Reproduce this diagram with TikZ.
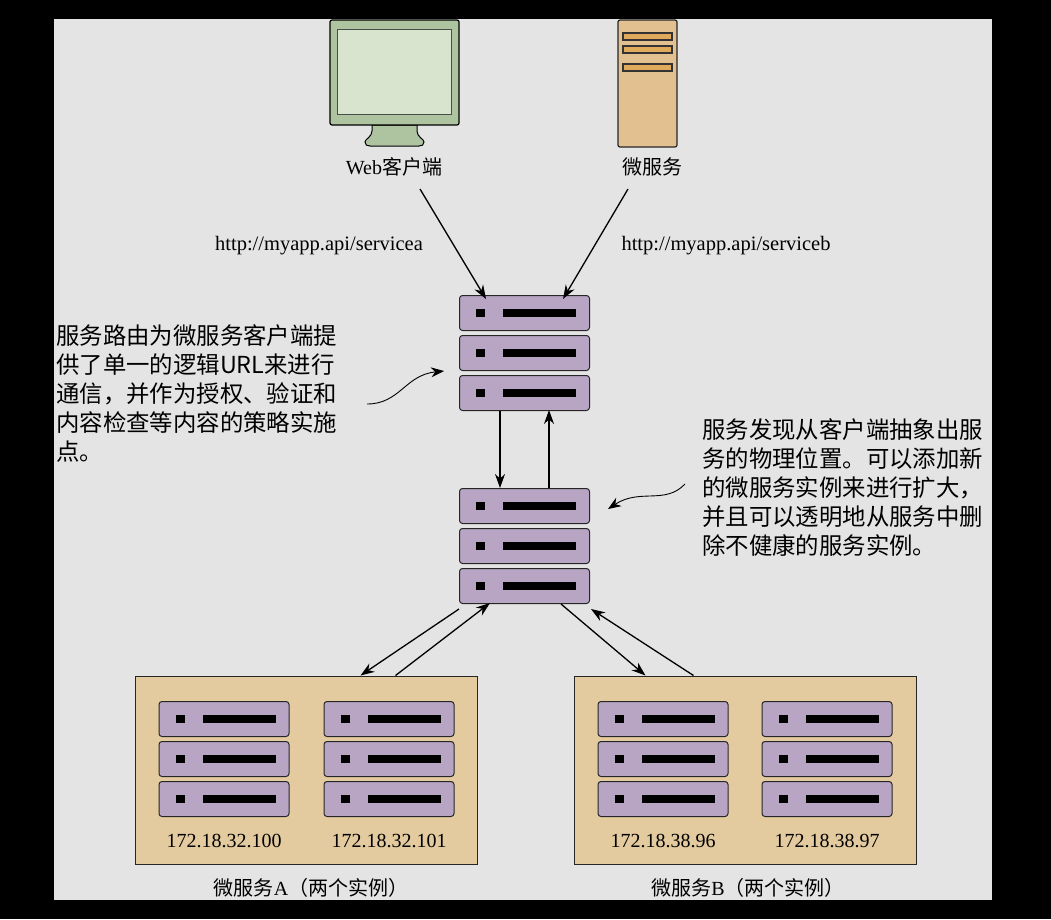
\documentclass[tikz,border=0pt]{standalone}
\usepackage{fontspec}
\setmainfont{Liberation Serif}
\newfontfamily\cjkfont{Noto Sans CJK SC}
\usetikzlibrary{arrows.meta}
\definecolor{pagegray}{HTML}{E4E4E4}
\definecolor{rackpurple}{HTML}{B8A5C4}
\definecolor{boxtan}{HTML}{E3CB9F}
\definecolor{towertan}{HTML}{E2C08F}
\definecolor{slottan}{HTML}{E0AA5C}
\definecolor{monitorgreen}{HTML}{AEC3A0}
\definecolor{screengreen}{HTML}{D9E4CF}
\tikzset{
  rack/.style={draw=black!85, fill=rackpurple, rounded corners=3pt, inner sep=0pt, minimum width=130pt, minimum height=35pt, line width=1pt},
  rackled/.style={fill=black, inner sep=0pt, minimum width=9pt, minimum height=8pt},
  rackbar/.style={fill=black, inner sep=0pt, minimum width=73pt, minimum height=8pt},
  rackstack/.pic={
    \foreach \row/\ypos in {a/0,b/40,c/80} {
      \node[rack] (-\row) at (0,\ypos) {};
      \node[rackled] (-\row led) at (-44,\ypos) {};
      \node[rackbar] (-\row bar) at (15,\ypos) {};
    }
  },
  flow/.style={-{Stealth[length=14pt,width=10pt]}, line width=1.3pt, black},
  pointer/.style={-{Stealth[length=13pt,width=10pt]}, line width=.9pt, black},
  serverbox/.style={draw=black!85, fill=boxtan, inner sep=0pt, minimum width=342pt, minimum height=188pt, line width=1pt},
  slot/.style={draw=black!80, fill=slottan, inner sep=0pt, minimum width=49pt, minimum height=7pt, line width=1.2pt},
  iplabel/.style={font=\fontsize{20}{24}\selectfont},
  caption/.style={font=\fontsize{20}{24}\selectfont\cjkfont},
  urllabel/.style={font=\fontsize{20.5}{24}\selectfont},
  note/.style={font=\fontsize{23.4}{29}\selectfont\cjkfont, align=left, anchor=north west, inner sep=0pt},
}
\begin{document}
\begin{tikzpicture}[x=1pt,y=-1pt]
  \useasboundingbox (0,0) rectangle (1051,919);
  \fill[black] (0,0) rectangle (1051,919);
  \fill[pagegray] (54,19) rectangle (992,900);

  % client monitor
  \draw[fill=monitorgreen, line width=1pt] (372,125) -- (372,131) .. controls (372,137) and (365,139) .. (365,142) .. controls (365,145) and (367,146) .. (370,146) -- (419,146) .. controls (422,146) and (424,145) .. (424,142) .. controls (424,139) and (417,137) .. (417,131) -- (417,125) -- cycle;
  \node[draw=black, fill=monitorgreen, rounded corners=2pt, inner sep=0pt, minimum width=129pt, minimum height=105pt, line width=1.2pt] (monitor) at (394.5,72.5) {};
  \node[draw=black!70, fill=screengreen, inner sep=0pt, minimum width=114pt, minimum height=85pt, line width=1pt] (screen) at (394.5,71.5) {};

  % tower
  \node[draw=black!85, fill=towertan, rounded corners=2pt, inner sep=0pt, minimum width=59pt, minimum height=127pt, line width=1.2pt] (tower) at (647.5,83.5) {};
  \node[slot] (slot1) at (647.5,36.5) {};
  \node[slot] (slot2) at (647.5,49.5) {};
  \node[slot] (slot3) at (647.5,67.5) {};

  \node (weblabel) at (394,167) {\fontsize{20}{24}\selectfont Web\cjkfont 客户端};
  \node[caption] (msvclabel) at (652,167) {微服务};
  \node[urllabel] (urla) at (319,246) {http://myapp.api/servicea};
  \node[urllabel] (urlb) at (726,246) {http://myapp.api/serviceb};

  \pic (router) at (524.5,313) {rackstack};
  \pic (discovery) at (524.5,506) {rackstack};

  % service A and B
  \node[serverbox] (boxa) at (306,770) {};
  \node[serverbox] (boxb) at (745,770) {};
  \pic (a1) at (224,719) {rackstack};
  \pic (a2) at (389,719) {rackstack};
  \pic (b1) at (663,719) {rackstack};
  \pic (b2) at (827,719) {rackstack};
  \node[iplabel] (ipa1) at (224,840.5) {172.18.32.100};
  \node[iplabel] (ipa2) at (389,840.5) {172.18.32.101};
  \node[iplabel] (ipb1) at (663,840.5) {172.18.38.96};
  \node[iplabel] (ipb2) at (827,840.5) {172.18.38.97};
  \node (capa) at (311,888) {\fontsize{20}{24}\selectfont\cjkfont 微服务{\rmfamily A}（两个实例）};
  \node (capb) at (748,888) {\fontsize{20}{24}\selectfont\cjkfont 微服务{\rmfamily B}（两个实例）};

  \node[note] (noteleft) at (56,324) {服务路由为微服务客户端提\\供了单一的逻辑URL来进行\\通信，并作为授权、验证和\\内容检查等内容的策略实施\\点。};
  \node[note] (noteright) at (702,418) {服务发现从客户端抽象出服\\务的物理位置。可以添加新\\的微服务实例来进行扩大，\\并且可以透明地从服务中删\\除不健康的服务实例。};

  % free ends
  \coordinate (webout) at (420,189);
  \coordinate (msvcout) at (628,189);
  \coordinate (noteleftout) at (367,404);
  \coordinate (noterightout) at (685,484);

  \draw[flow] (webout) -- ([xshift=27pt,yshift=-4pt]router-a.north west);
  \draw[flow] (msvcout) -- ([xshift=-27pt,yshift=-4pt]router-a.north east);
  \draw[flow] ([xshift=41pt]router-c.south west) -- ([xshift=41pt]discovery-a.north west);
  \draw[flow] ([xshift=90pt]discovery-a.north west) -- ([xshift=90pt,yshift=1pt]router-c.south west);
  \draw[flow] ([yshift=-5pt]discovery-c.south west) -- ([xshift=-117pt]boxa.north east);
  \draw[flow] ([xshift=-82pt]boxa.north east) -- ([xshift=31pt,yshift=1pt]discovery-c.south west);
  \draw[flow] ([xshift=-29pt]discovery-c.south east) -- ([xshift=72pt]boxb.north west);
  \draw[flow] ([xshift=120pt]boxb.north west) -- ([xshift=1pt,yshift=-5pt]discovery-c.south east);
  \draw[pointer] (noteleftout) .. controls (400,404) and (405,375) .. (444,371);
  \draw[pointer] (noterightout) .. controls (665,505) and (640,488) .. (608,509);
\end{tikzpicture}
\end{document}
